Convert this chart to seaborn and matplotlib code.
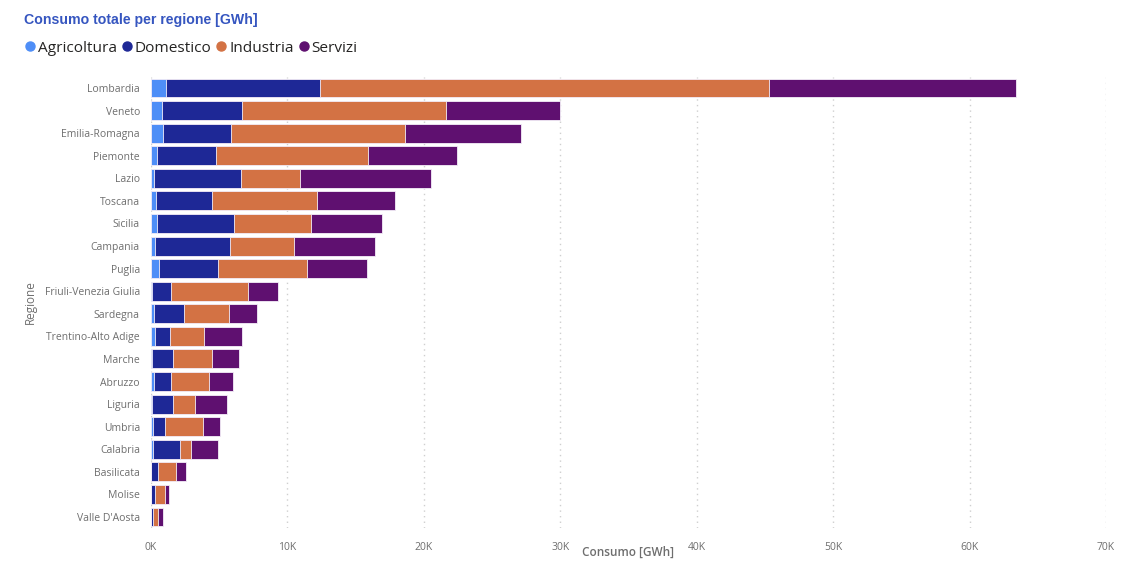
import matplotlib
matplotlib.use("Agg")
import matplotlib.pyplot as plt
from matplotlib.lines import Line2D
from matplotlib.ticker import FuncFormatter, MultipleLocator
import seaborn as sns
import pandas as pd
import numpy as np

regions = ["Lombardia", "Veneto", "Emilia-Romagna", "Piemonte", "Lazio", "Toscana",
           "Sicilia", "Campania", "Puglia", "Friuli-Venezia Giulia", "Sardegna",
           "Trentino-Alto Adige", "Marche", "Abruzzo", "Liguria", "Umbria", "Calabria",
           "Basilicata", "Molise", "Valle D'Aosta"]

agricoltura = [1070, 830, 850, 410, 250, 340, 410, 290, 560, 100, 250, 290, 100, 200, 50, 120, 120, 30, 20, 10]
domestico = [11330, 5840, 5050, 4350, 6350, 4110, 5690, 5480, 4340, 1370, 2170, 1100, 1540, 1270, 1560, 910, 1980, 480, 270, 140]
industria = [32900, 14930, 12700, 11140, 4300, 7750, 5650, 4730, 6500, 5660, 3280, 2470, 2830, 2780, 1620, 2810, 850, 1300, 710, 390]
servizi = [18100, 8400, 8500, 6500, 9600, 5700, 5150, 5950, 4400, 2160, 2100, 2790, 2000, 1740, 2370, 1220, 1990, 760, 300, 360]

series_names = ["Agricoltura", "Domestico", "Industria", "Servizi"]
colors = ["#4E8EF7", "#1E2896", "#D37244", "#5F1070"]

df = pd.DataFrame({"Regione": regions, "Agricoltura": agricoltura, "Domestico": domestico,
                   "Industria": industria, "Servizi": servizi})
cum = df[series_names].cumsum(axis=1)

sns.set_theme(style="white")
plt.rcParams["font.family"] = ["Open Sans", "DejaVu Sans"]

fig = plt.figure(figsize=(11.35, 5.67), dpi=100)
ax = fig.add_axes([151/1135, 1 - 528.3/567, (1106 - 151)/1135, (528.3 - 76.7)/567])

for name, col in reversed(list(zip(series_names, colors))):
    sns.barplot(x=cum[name], y=df["Regione"], color=col, orient="h", width=0.84,
                edgecolor="#F4EEF8", linewidth=0.6, ax=ax, saturation=1)

ax.set_xlim(0, 70000)
ax.xaxis.set_major_locator(MultipleLocator(10000))
ax.xaxis.set_major_formatter(FuncFormatter(lambda v, p: f"{int(v/1000)}K"))
ax.grid(axis="x", color="#CFCFCF", linestyle=(0, (1, 3)), linewidth=1)
ax.set_axisbelow(True)
for s in ax.spines.values():
    s.set_visible(False)
ax.tick_params(axis="both", length=0, labelsize=7.5, colors="#6E6E6E")
ax.tick_params(axis="x", pad=10)
ax.tick_params(axis="y", pad=8)

ax.set_xlabel("Consumo [GWh]", fontsize=8.5, color="#6E6E6E", fontweight="semibold", va="center")
ax.xaxis.set_label_coords(0.5, -0.0525)
ax.set_ylabel("Regione", fontsize=8.5, color="#6E6E6E", fontweight="normal", va="center")
ax.yaxis.set_label_coords(-0.1267, 0.5)

fig.text(0.021, 0.965, "Consumo totale per regione [GWh]", fontsize=10.2, fontweight="bold",
         color="#3656C0", va="center", ha="left", family=["Liberation Sans", "DejaVu Sans"])

handles = [Line2D([0], [0], marker="o", linestyle="", markersize=6.5, markerfacecolor=c,
                  markeredgecolor=c) for c in colors]
fig.legend(handles, series_names, loc="center left", bbox_to_anchor=(0.013, 0.915), ncol=4,
           frameon=False, fontsize=11.1, handletextpad=-0.1, columnspacing=0.05,
           handlelength=1.2, borderaxespad=0, labelcolor="#252423")

fig.savefig("out.png", dpi=100)
